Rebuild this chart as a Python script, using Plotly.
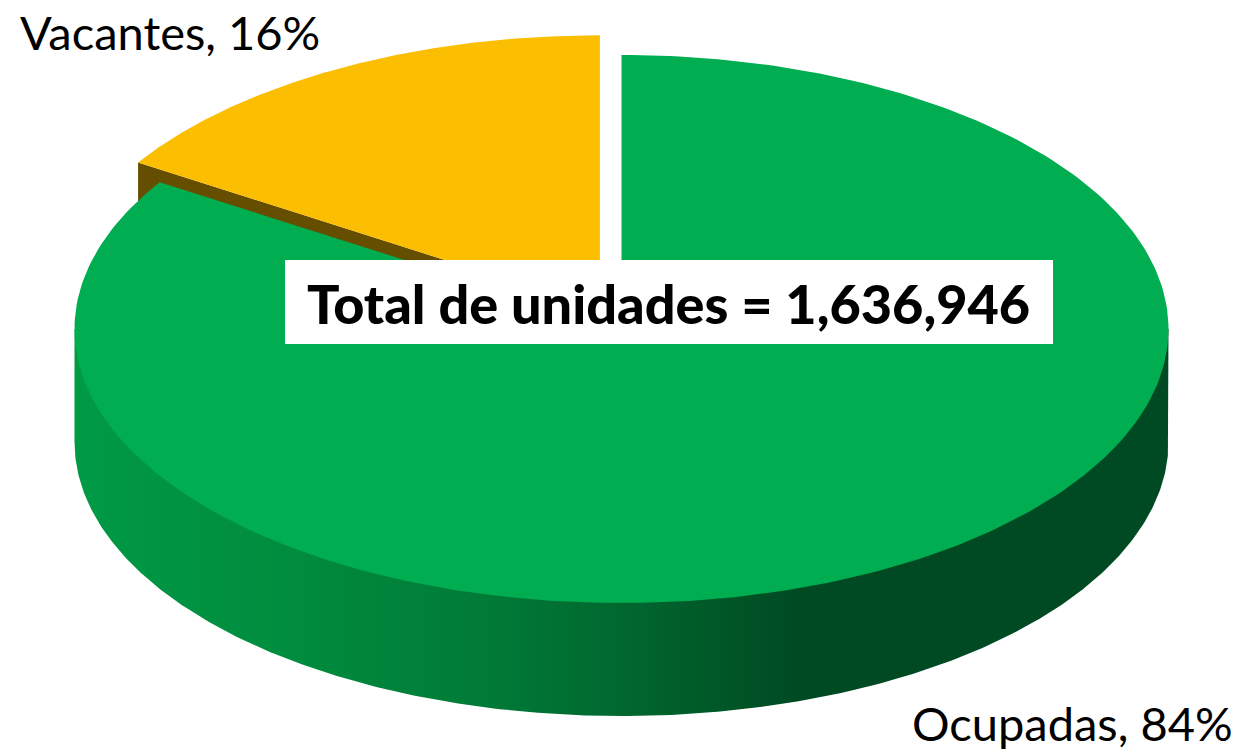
import numpy as np
import plotly.graph_objects as go

# --- data ---
categories = ["Ocupadas", "Vacantes"]
percent = [84, 16]
total_units = "1,636,946"

# --- style ---
GREEN = "#00AD50"
YELLOW = "#FBBE00"
BROWN = "#664E00"
SIDE_STOPS = [
    [0.00, "#009A45"], [0.20, "#008C3E"], [0.38, "#007A37"],
    [0.50, "#00682F"], [0.60, "#005526"], [0.66, "#004A23"], [1.00, "#004A23"],
]
FONT = "Lato"
W, H = 1239, 754
CX, CY, RX, RY, DEPTH = 621.5, 329, 547, 274, 113
EXPLODE = 0.082


def ell(theta):
    """Clock angle in degrees (0 at top, clockwise) -> screen position."""
    t = np.radians(theta)
    return CX + RX * np.sin(t), CY - RY * np.cos(t)


def wedge(a0, a1, dx=0.0, dy=0.0):
    th = np.linspace(a0, a1, 300)
    x, y = ell(th)
    return np.r_[CX, x, CX] + dx, np.r_[CY, y, CY] + dy


def poly(x, y, color, **kw):
    return go.Scatter(x=x, y=y, mode="lines", fill="toself", fillcolor=color,
                      line=dict(width=0), hoverinfo="skip", showlegend=False, **kw)


share = np.array(percent) / sum(percent) * 360
occ_end = share[0]

# explosion of the vacant slice along its mid angle
mid = np.radians(occ_end + share[1] / 2)
ox, oy = EXPLODE * RX * np.sin(mid), -EXPLODE * RY * np.cos(mid)

fig = go.Figure()

# cut face of the vacant slice
ex, ey = ell(occ_end)
fx = np.array([ex, CX, CX, ex]) + ox
fy = np.array([ey, CY, CY + DEPTH, ey + DEPTH]) + oy
fig.add_trace(poly(fx, fy, BROWN, name="Vacantes cut"))

# top of the vacant slice
vx, vy = wedge(occ_end, 360, ox, oy)
fig.add_trace(poly(vx, vy, YELLOW, name=categories[1]))

# curved wall of the occupied slice (closed under the top face, so no seam)
th = np.linspace(90, 270, 400)
sx, sy = ell(th)
wall_x = np.r_[sx[0], sx, sx[-1]]
wall_y = np.r_[CY, sy + DEPTH, CY]
fig.add_trace(go.Scatter(
    x=wall_x, y=wall_y, mode="lines", fill="toself", line=dict(width=0),
    fillgradient=dict(type="horizontal", colorscale=SIDE_STOPS,
                      start=CX - RX, stop=CX + RX),
    hoverinfo="skip", showlegend=False, name="Ocupadas wall"))

# top of the occupied slice
gx, gy = wedge(0, occ_end)
fig.add_trace(poly(gx, gy, GREEN, name=categories[0]))

fig.add_shape(type="rect", x0=285, x1=1053, y0=260, y1=344,
              fillcolor="white", line=dict(width=0), layer="above")

fig.add_annotation(x=668, y=303, text=f"Total de unidades = {total_units}",
                   showarrow=False,
                   font=dict(family=FONT, size=54, color="black", weight=900))
fig.add_annotation(x=18, y=32, xanchor="left",
                   text=f"{categories[1]}, {percent[1]}%", showarrow=False,
                   font=dict(family=FONT, size=47, color="black"))
fig.add_annotation(x=1235, y=723, xanchor="right",
                   text=f"{categories[0]}, {percent[0]}%", showarrow=False,
                   font=dict(family=FONT, size=47, color="black"))

fig.update_layout(
    width=W, height=H, margin=dict(l=0, r=0, t=0, b=0),
    paper_bgcolor="white", plot_bgcolor="white", showlegend=False,
    xaxis=dict(range=[0, W], visible=False, fixedrange=True),
    yaxis=dict(range=[H, 0], visible=False, fixedrange=True),
)
fig.write_html("out.html", config={"displayModeBar": False},
               post_script="document.body.style.margin='0';document.body.style.overflow='hidden';")
